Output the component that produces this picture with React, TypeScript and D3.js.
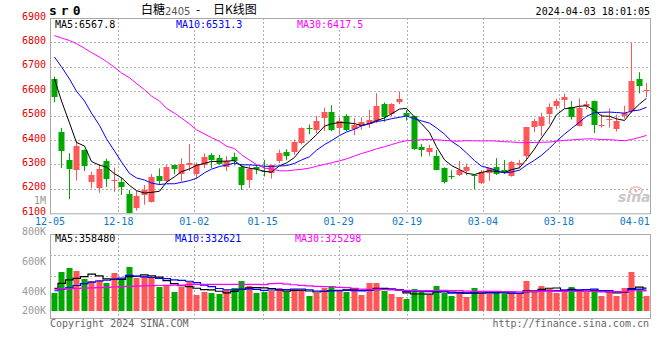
import React from "react";
import * as d3 from "d3";

const dates = [
  "12-05","12-06","12-07","12-08","12-11","12-12","12-13","12-14","12-15","12-18","12-19","12-20","12-21","12-22","12-25","12-26","12-27","12-28","12-29",
  "01-02","01-03","01-04","01-05","01-08","01-09","01-10","01-11","01-12","01-15","01-16","01-17","01-18","01-19","01-22","01-23","01-24","01-25","01-26","01-29","01-30","01-31",
  "02-01","02-02","02-05","02-06","02-07","02-08","02-19","02-20","02-21","02-22","02-23","02-26","02-27","02-28","02-29",
  "03-01","03-04","03-05","03-06","03-07","03-08","03-11","03-12","03-13","03-14","03-15","03-18","03-19","03-20","03-21","03-22","03-25","03-26","03-27","03-28","03-29",
  "04-01","04-02","04-03",
];

const opens = [
  6650,6435,6318,6276,6360,6229,6202,6313,6234,6228,6179,6123,6173,6146,6252,6233,6297,6260,6296,6262,
  6296,6340,6326,6290,6331,6290,6237,6290,6275,6266,6313,6352,6350,6387,6451,6443,6491,6513,6451,6500,
  6444,6459,6467,6480,6548,6507,6556,6509,6497,6370,6351,6335,6286,6252,6257,6275,6255,6225,6266,6288,
  6277,6254,6297,6333,6454,6458,6505,6539,6564,6537,6457,6539,6558,6461,6482,6444,6499,6519,6652,6601,
];
const highs = [
  6660,6450,6346,6397,6362,6270,6301,6324,6288,6247,6195,6193,6216,6261,6284,6297,6298,6325,6383,6308,
  6345,6346,6340,6334,6348,6303,6298,6297,6319,6298,6361,6363,6402,6452,6464,6499,6533,6543,6493,6506,
  6490,6493,6524,6592,6554,6551,6598,6524,6500,6384,6381,6359,6288,6277,6314,6304,6258,6277,6286,6326,
  6318,6314,6319,6453,6488,6512,6550,6569,6591,6560,6571,6560,6562,6507,6529,6505,6541,6799,6678,6634,
];
const lows = [
  6555,6285,6158,6234,6273,6202,6184,6208,6188,6175,6100,6111,6135,6144,6216,6229,6260,6229,6273,6240,
  6285,6285,6300,6273,6296,6195,6204,6260,6251,6242,6306,6317,6339,6382,6424,6428,6437,6436,6425,6437,
  6420,6442,6449,6469,6475,6497,6547,6480,6360,6332,6335,6276,6222,6240,6252,6255,6200,6220,6233,6257,
  6262,6250,6284,6315,6433,6417,6465,6526,6531,6484,6456,6526,6429,6451,6451,6435,6488,6512,6591,6576,
];
const closes = [
  6575,6355,6282,6374,6293,6256,6281,6242,6238,6209,6103,6171,6195,6250,6233,6288,6281,6301,6307,6303,
  6331,6320,6302,6313,6313,6214,6281,6281,6270,6296,6347,6336,6394,6451,6448,6479,6513,6442,6478,6442,
  6462,6473,6483,6540,6494,6548,6569,6497,6363,6359,6367,6277,6228,6247,6277,6291,6251,6270,6284,6261,
  6268,6311,6308,6452,6477,6495,6537,6558,6575,6493,6530,6546,6462,6463,6487,6477,6512,6641,6621,6604,
];
// volume in thousands
const volumes = [
  320,460,487,467,413,400,407,387,453,404,493,422,433,422,360,373,327,360,391,307,
  329,320,311,338,353,400,367,320,329,333,351,329,347,338,302,318,351,367,340,329,
  342,307,387,387,333,313,293,280,347,333,307,367,320,300,327,293,353,318,311,333,
  320,311,311,400,333,367,347,320,329,360,329,329,342,300,333,302,351,462,347,302,
];

const ma5Head = [6650, 6560, 6470, 6390];
const ma10Head = [6740, 6700, 6650, 6600, 6560, 6510, 6460, 6405, 6355];
const ma30Head = [
  6828,6818,6808,6795,6776,6758,6740,6722,6698,6675,6655,6632,6606,6580,6560,
  6530,6510,6490,6466,6442,6425,6410,6395,6375,6365,6340,6318,6300,6285,
];
const vma5Head = [351, 384, 407, 418];
const vma10Head = [335, 345, 355, 370, 383, 392, 400, 405, 410];
const vma30Head = [
  345,347,349,350,352,354,356,358,360,362,364,366,368,369,370,
  371,372,373,376,378,378,378,378,378,378,378,378,377,376,
];

const priceTicks = [6900, 6800, 6700, 6600, 6500, 6400, 6300, 6200, 6100];
const volTicks = [800, 600, 400, 200];
const dateTicks = ["12-05","12-18","01-02","01-15","01-29","02-19","03-04","03-18","04-01"];

const maLabels = ["MA5:6567.8", "MA10:6531.3", "MA30:6417.5"];
const vmaLabels = ["MA5:358480", "MA10:332621", "MA30:325298"];
const maColors = ["#000000", "#0000ff", "#ff00ff"];

const RED = "#ff5757";
const GREEN = "#00a800";
const MONO = "'DejaVu Sans Mono', monospace";
const CJK = "'Noto Sans CJK SC', sans-serif";

function movingAvg(values: number[], n: number, head: number[]) {
  return values.map((v, i) =>
    i >= n - 1 ? (d3.mean(values.slice(i - n + 1, i + 1)) as number) : head[i]
  );
}

export default function App() {
  const left = 50, right = 650, top = 18, bottom = 213.3;
  const vTop = 234, vBottom = 318, vBase = 311;
  const idx = d3.range(dates.length);

  const xBand = d3.scaleBand<number>().domain(idx).range([left, right]).paddingInner(0.22).paddingOuter(0.11);
  const xGrid = d3.scalePoint<number>().domain(idx).range([left, right]);
  const y = d3.scaleLinear().domain([6100, 6900]).range([bottom, top]);
  const yv = d3.scaleLinear().domain([200, 800]).range([vBase, vBase - 90]);
  const cx = (i: number) => Math.round((xBand(i) as number) + xBand.bandwidth() / 2) + 0.5;
  const bw = Math.round(xBand.bandwidth());

  const ma = [
    movingAvg(closes, 5, ma5Head),
    movingAvg(closes, 10, ma10Head),
    movingAvg(closes, 30, ma30Head),
  ];
  const vma = [
    movingAvg(volumes, 5, vma5Head),
    movingAvg(volumes, 10, vma10Head),
    movingAvg(volumes, 30, vma30Head),
  ];

  const priceLine = d3.line<number>().x((_, i) => cx(i)).y((d) => y(d));
  const volLine = d3.line<number>().x((_, i) => cx(i)).y((d) => yv(d)).curve(d3.curveStep);

  const tickIdx = dateTicks.map((t) => dates.indexOf(t));
  const innerGrid = tickIdx.slice(1, -1);

  const labelX = [55, 176, 297];
  const vLabelX = [55, 175, 295];
  const charW = 6.02;

  return (
    <svg width={660} height={360} style={{ position: "absolute", left: 0, top: 0, display: "block", background: "#fff" }}>
      <rect x={0} y={0} width={660} height={360} fill="#fff" />
      {/* header */}
      <text x={49} y={11} dominantBaseline="middle" fontFamily={MONO} fontWeight="bold" fontSize={13} letterSpacing={4} fill="#000">sr0</text>
      <text x={141} y={11} dominantBaseline="middle" fontFamily={CJK} fontSize={12} fill="#000">白糖</text>
      <text x={165} y={11.5} dominantBaseline="middle" fontFamily="'DejaVu Sans', sans-serif" fontSize={10} fill="#555">2405</text>
      <text x={196} y={11} dominantBaseline="middle" fontFamily={CJK} fontSize={12} fill="#000">-</text>
      <text x={213} y={11} dominantBaseline="middle" fontFamily={CJK} fontSize={12} fill="#000">日K线图</text>
      <text x={650} y={12} textAnchor="end" dominantBaseline="middle" fontFamily={MONO} fontSize={10} fill="#000">2024-04-03 18:01:05</text>

      {/* main panel grid */}
      {priceTicks.slice(1, -1).map((p) => (
        <line key={"hg" + p} x1={left} x2={right} y1={Math.round(y(p)) + 0.5} y2={Math.round(y(p)) + 0.5} stroke="#b0b0b0" strokeDasharray="2,2" />
      ))}
      {innerGrid.map((i) => (
        <line key={"vg" + i} x1={Math.round(xGrid(i) as number) + 0.5} x2={Math.round(xGrid(i) as number) + 0.5} y1={top} y2={bottom} stroke="#b0b0b0" strokeDasharray="2,2" />
      ))}
      <rect x={left + 0.5} y={top + 0.5} width={right - left} height={bottom - top} fill="none" stroke="#a8a8a8" />

      {/* price labels */}
      {priceTicks.map((p) => (
        <text key={"pl" + p} x={46} y={y(p) - 1.5} textAnchor="end" dominantBaseline="middle" fontFamily={MONO} fontSize={10} fill="#e00000">{p}</text>
      ))}
      <text x={46} y={200.7} textAnchor="end" dominantBaseline="middle" fontFamily={MONO} fontSize={10} fill="#999">1M</text>

      {/* date labels */}
      {tickIdx.map((i, k) => (
        <text key={"dl" + i} x={xGrid(i) as number} y={222} textAnchor="middle" dominantBaseline="middle" fontFamily={MONO} fontSize={10} fill="#0a78c8">{dateTicks[k]}</text>
      ))}

      {/* watermark */}
      <ellipse cx={636} cy={191} rx={6} ry={4} fill="none" stroke="#f2b8b8" strokeWidth={1.5} />
      <circle cx={636} cy={191} r={1.6} fill="#f2b8b8" />
      <text x={618} y={202} fontFamily="'DejaVu Sans', sans-serif" fontStyle="italic" fontWeight="bold" fontSize={14} fill="#c8c8c8">sina</text>

      {/* candles */}
      {idx.map((i) => {
        const up = closes[i] >= opens[i];
        const c = up ? RED : GREEN;
        const x = cx(i);
        const yT = Math.round(y(Math.max(opens[i], closes[i])));
        const yB = Math.round(y(Math.min(opens[i], closes[i])));
        return (
          <g key={"c" + i}>
            <line x1={x} x2={x} y1={y(highs[i])} y2={y(lows[i])} stroke={c} />
            <rect x={x - bw / 2} y={yT} width={bw} height={Math.max(1, yB - yT)} fill={c} />
          </g>
        );
      })}

      {/* main MA lines */}
      {ma.map((s, k) => (
        <path key={"ma" + k} d={priceLine(s) || ""} fill="none" stroke={maColors[k]} strokeWidth={1} />
      ))}

      {/* main MA labels */}
      {maLabels.map((t, k) => (
        <g key={"mal" + k}>
          <rect x={labelX[k]} y={19} width={t.length * charW} height={11} fill="#fff" />
          <text x={labelX[k]} y={24.5} dominantBaseline="middle" fontFamily={MONO} fontSize={10} fill={maColors[k]}>{t}</text>
        </g>
      ))}

      {/* volume panel */}
      {[1, 2, 3].map((q) => {
        const yy = Math.round(vTop + ((vBottom - vTop) * q) / 4) + 0.5;
        return <line key={"vh" + q} x1={left} x2={right} y1={yy} y2={yy} stroke="#b0b0b0" strokeDasharray="2,2" />;
      })}
      {innerGrid.map((i) => (
        <line key={"vvg" + i} x1={Math.round(xGrid(i) as number) + 0.5} x2={Math.round(xGrid(i) as number) + 0.5} y1={vTop} y2={vBottom + 3} stroke="#b0b0b0" strokeDasharray="2,2" />
      ))}
      <rect x={left + 0.5} y={vTop + 0.5} width={right - left} height={vBottom - vTop} fill="none" stroke="#a8a8a8" />

      {volTicks.map((v) => (
        <text key={"vl" + v} x={46} y={Math.min(yv(v) + 11, vBase)} textAnchor="end" dominantBaseline="middle" fontFamily={MONO} fontSize={10} fill="#999">{v}K</text>
      ))}

      {idx.map((i) => {
        const up = closes[i] >= opens[i];
        const yT = Math.round(yv(volumes[i]));
        return (
          <rect key={"v" + i} x={cx(i) - bw / 2} y={yT} width={bw} height={vBase - yT} fill={up ? RED : GREEN} />
        );
      })}

      {vma.map((s, k) => (
        <path key={"vma" + k} d={volLine(s) || ""} fill="none" stroke={maColors[k]} strokeWidth={1.2} />
      ))}

      {vmaLabels.map((t, k) => (
        <g key={"vmal" + k}>
          <rect x={vLabelX[k]} y={235} width={t.length * charW} height={10} fill="#fff" />
          <text x={vLabelX[k]} y={239} dominantBaseline="middle" fontFamily={MONO} fontSize={10} fill={maColors[k]}>{t}</text>
        </g>
      ))}

      {/* footer */}
      <text x={50} y={324} dominantBaseline="middle" fontFamily={MONO} fontSize={10} fill="#666">Copyright 2024 SINA.COM</text>
      <text x={649} y={324} textAnchor="end" dominantBaseline="middle" fontFamily={MONO} fontSize={10} fill="#666">http://finance.sina.com.cn</text>
    </svg>
  );
}
